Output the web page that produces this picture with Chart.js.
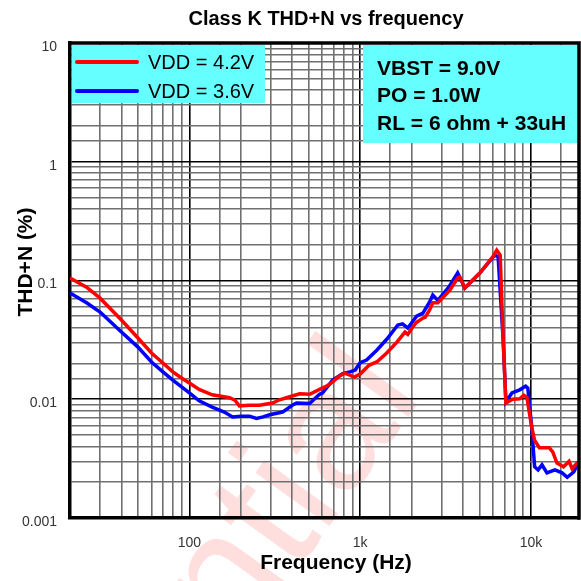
<!DOCTYPE html>
<html>
<head>
<meta charset="utf-8">
<script src="https://cdn.jsdelivr.net/npm/chart.js@4/dist/chart.umd.min.js"></script>
<style>
html,body{margin:0;padding:0;background:#fff;}
#wrap{width:581px;height:581px;position:relative;}
canvas{display:block;}
</style>
</head>
<body>
<div id="wrap"><canvas id="c" width="581" height="581"></canvas></div>
<script>
// ---- Data ----
const chartTitle = 'Class K THD+N vs frequency';
const xAxisTitle = 'Frequency (Hz)';
const yAxisTitle = 'THD+N (%)';
const seriesNames = ['VDD = 4.2V', 'VDD = 3.6V'];
const noteLines = ['VBST = 9.0V', 'PO = 1.0W', 'RL = 6 ohm + 33uH'];

const xTickValues = [100, 1000, 10000];
const xTickLabels = ['100', '1k', '10k'];
const yTickValues = [0.001, 0.01, 0.1, 1, 10];
const yTickLabels = ['0.001', '0.01', '0.1', '1', '10'];

const freqRed = [20, 25, 30, 40, 50, 60, 70, 80, 90, 100, 114, 136, 172, 185, 196, 225, 257, 307, 337, 370, 442, 506, 578, 636, 690, 757, 810, 870, 920, 1000, 1130, 1250, 1430, 1640, 1830, 1900, 2030, 2140, 2330, 2400, 2550, 2660, 2850, 3350, 3720, 3830, 4100, 5000, 6000, 6300, 6600, 6870, 7130, 7800, 8590, 9070, 9460, 10100, 10500, 11200, 12800, 13400, 14200, 15500, 16700, 17400, 18600, 19100];
const thdRed  = [0.105, 0.088, 0.071, 0.0465, 0.0328, 0.0245, 0.0202, 0.0170, 0.0151, 0.0137, 0.0121, 0.0109, 0.0103, 0.0098, 0.0088, 0.0089, 0.0089, 0.0093, 0.0099, 0.0103, 0.0111, 0.0110, 0.0121, 0.0129, 0.0140, 0.0157, 0.0166, 0.0160, 0.0153, 0.0163, 0.0194, 0.0206, 0.0245, 0.0303, 0.0368, 0.0352, 0.0406, 0.0445, 0.0483, 0.049, 0.0565, 0.065, 0.065, 0.083, 0.105, 0.107, 0.0865, 0.115, 0.160, 0.180, 0.164, 0.032, 0.0093, 0.0100, 0.0101, 0.0108, 0.0104, 0.0058, 0.0045, 0.0039, 0.0039, 0.0036, 0.0029, 0.0027, 0.0030, 0.0026, 0.0029, 0.0029];

const freqBlue = [20, 25, 30, 40, 50, 60, 70, 80, 90, 100, 114, 136, 160, 179, 200, 225, 247, 270, 295, 351, 400, 424, 506, 578, 603, 690, 790, 870, 935, 1000, 1090, 1250, 1430, 1660, 1770, 1900, 2140, 2330, 2550, 2660, 2850, 3300, 3720, 4100, 5000, 6150, 6420, 6870, 7130, 7730, 8590, 9300, 9580, 10100, 10500, 11000, 11600, 12400, 13800, 15200, 16300, 17800, 18900, 19100];
const thdBlue  = [0.0785, 0.065, 0.0543, 0.0368, 0.0275, 0.0206, 0.0170, 0.0145, 0.0127, 0.0113, 0.0097, 0.0086, 0.0078, 0.0071, 0.0072, 0.0072, 0.0069, 0.0071, 0.0074, 0.0078, 0.0089, 0.0093, 0.0092, 0.0110, 0.0113, 0.0145, 0.0164, 0.0170, 0.0176, 0.0203, 0.0214, 0.0259, 0.0320, 0.0422, 0.0432, 0.0398, 0.0500, 0.0532, 0.066, 0.0755, 0.068, 0.088, 0.116, 0.0865, 0.115, 0.164, 0.158, 0.0317, 0.0095, 0.0113, 0.0120, 0.0129, 0.0124, 0.0058, 0.0027, 0.00254, 0.0028, 0.0024, 0.00254, 0.0024, 0.0022, 0.00244, 0.0029, 0.0030];

const seriesColors = ['#FF0000', '#0000FF'];

// ---- helpers ----
const FONT = '"Liberation Sans", Arial, Helvetica, sans-serif';
function labelFor(v, vals, labels) {
  for (let i = 0; i < vals.length; i++) {
    if (Math.abs(v - vals[i]) / vals[i] < 1e-6) return labels[i];
  }
  return '';
}
function isMajor(v) {
  const l = Math.log10(v);
  return Math.abs(l - Math.round(l)) < 1e-6;
}

const decor = {
  id: 'decor',
  beforeDraw(chart) {
    const ctx = chart.ctx;
    ctx.save();
    ctx.fillStyle = '#ffffff';
    ctx.fillRect(0, 0, chart.width, chart.height);
    // faint watermark
    ctx.translate(424, 395);
    ctx.rotate(-54.2 * Math.PI / 180);
    ctx.font = '173px ' + FONT;
    ctx.fillStyle = 'rgba(255,0,0,0.13)';
    ctx.textAlign = 'right';
    ctx.textBaseline = 'alphabetic';
    ctx.fillText('Confidential', 0, 0);
    ctx.restore();
  },
  afterDraw(chart) {
    const ctx = chart.ctx;
    const a = chart.chartArea;
    ctx.save();
    // legend box
    ctx.fillStyle = '#66FFFF';
    ctx.fillRect(a.left + 2, a.top + 2, 193, 58);
    ctx.lineCap = 'round';
    ctx.lineWidth = 4;
    ctx.font = '20px ' + FONT;
    ctx.textAlign = 'left';
    ctx.textBaseline = 'middle';
    for (let i = 0; i < seriesNames.length; i++) {
      const y = a.top + 19 + i * 29;
      ctx.strokeStyle = seriesColors[i];
      ctx.beginPath();
      ctx.moveTo(a.left + 7, y);
      ctx.lineTo(a.left + 67, y);
      ctx.stroke();
      ctx.fillStyle = '#000';
      ctx.fillText(seriesNames[i], a.left + 78, y + 1);
    }
    // note box
    ctx.fillStyle = '#66FFFF';
    ctx.fillRect(363, a.top + 2, a.right - 363, 98);
    ctx.fillStyle = '#000';
    ctx.font = 'bold 21px ' + FONT;
    for (let i = 0; i < noteLines.length; i++) {
      ctx.fillText(noteLines[i], 377, a.top + 26 + i * 27.5);
    }
    // frame
    ctx.strokeStyle = '#000';
    ctx.lineWidth = 3.5;
    ctx.lineCap = 'butt';
    ctx.beginPath();
    ctx.moveTo(a.left - 1.75, a.top);
    ctx.lineTo(a.right, a.top);
    ctx.lineTo(a.right, a.bottom + 1.75);
    ctx.stroke();
    // titles
    ctx.fillStyle = '#000';
    ctx.font = 'bold 20px ' + FONT;
    ctx.textAlign = 'center';
    ctx.textBaseline = 'alphabetic';
    ctx.fillText(chartTitle, 326, 24.5);
    ctx.font = 'bold 21px ' + FONT;
    ctx.fillText(xAxisTitle, 336, 569);
    ctx.save();
    ctx.translate(32, 262);
    ctx.rotate(-Math.PI / 2);
    ctx.fillText(yAxisTitle, 0, 0);
    ctx.restore();
    ctx.restore();
  }
};

const gridOpts = {
  drawTicks: false,
  color: (c) => (c.tick && isMajor(c.tick.value)) ? '#000000' : '#707070',
  lineWidth: 1.6
};

new Chart(document.getElementById('c'), {
  type: 'line',
  data: {
    datasets: [
      {
        label: seriesNames[0],
        data: freqRed.map((f, i) => ({x: f, y: thdRed[i]})),
        borderColor: seriesColors[0],
        borderWidth: 3.5,
        pointRadius: 0,
        fill: false,
        tension: 0
      },
      {
        label: seriesNames[1],
        data: freqBlue.map((f, i) => ({x: f, y: thdBlue[i]})),
        borderColor: seriesColors[1],
        borderWidth: 3.5,
        pointRadius: 0,
        fill: false,
        tension: 0
      }
    ]
  },
  options: {
    responsive: false,
    animation: false,
    devicePixelRatio: 1,
    layout: { autoPadding: false, padding: { left: 0, right: 2, top: 43, bottom: 0 } },
    plugins: {
      legend: { display: false },
      title: { display: false },
      tooltip: { enabled: false }
    },
    scales: {
      x: {
        type: 'logarithmic',
        position: 'bottom',
        min: 20,
        max: 19100,
        afterFit: (s) => { s.height = 63; s.paddingLeft = 0; s.paddingRight = 0; },
        grid: gridOpts,
        border: { display: true, color: '#000', width: 3.5 },
        ticks: {
          autoSkip: false,
          maxRotation: 0,
          minRotation: 0,
          padding: 17,
          color: '#333',
          font: { family: FONT, size: 14 },
          callback: (v) => labelFor(v, xTickValues, xTickLabels)
        }
      },
      y: {
        type: 'logarithmic',
        position: 'left',
        min: 0.001,
        max: 10,
        afterFit: (s) => { s.width = 70; s.paddingTop = 0; s.paddingBottom = 0; },
        grid: gridOpts,
        border: { display: true, color: '#000', width: 3.5 },
        ticks: {
          autoSkip: false,
          padding: 13,
          labelOffset: 4,
          color: '#333',
          font: { family: FONT, size: 14 },
          callback: (v) => labelFor(v, yTickValues, yTickLabels)
        }
      }
    }
  },
  plugins: [decor]
});
</script>
</body>
</html>
